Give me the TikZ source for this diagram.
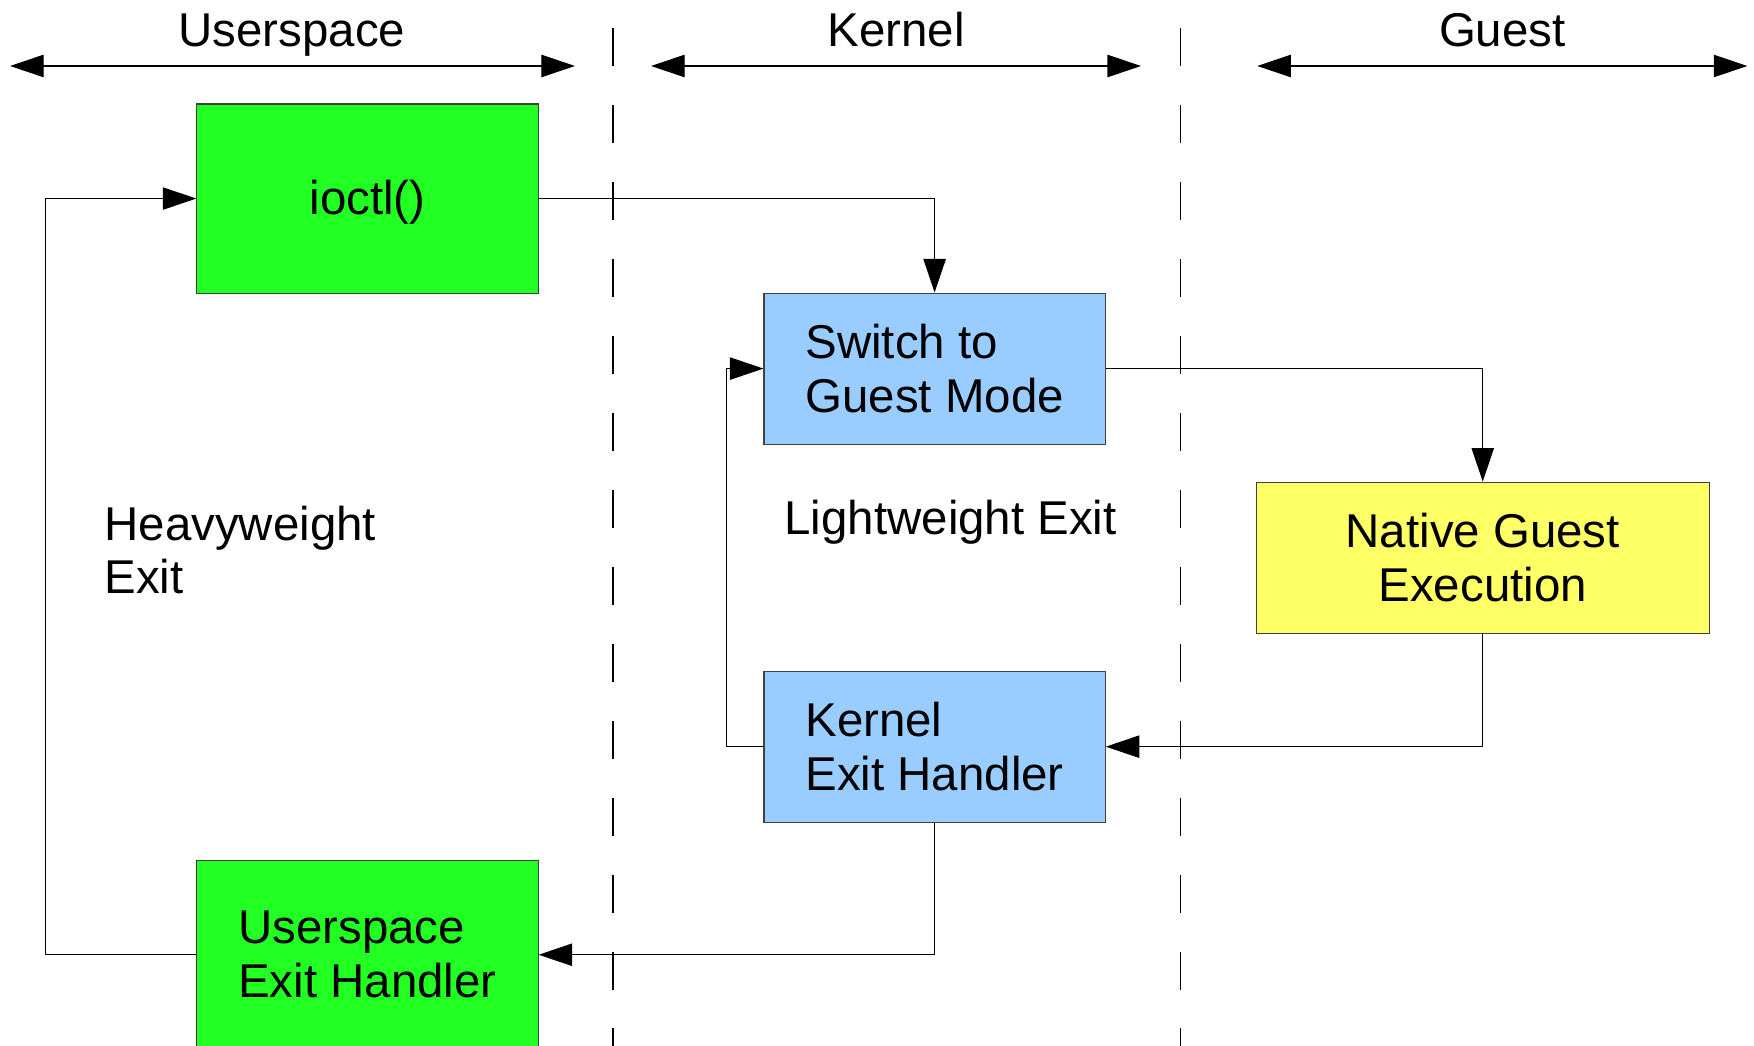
\documentclass[tikz,border=0pt]{standalone}
\usepackage{fontspec}
\setmainfont{Liberation Sans}
\usetikzlibrary{arrows.meta}
\definecolor{boxgreen}{RGB}{34,255,34}
\definecolor{boxblue}{RGB}{153,204,255}
\definecolor{boxyellow}{RGB}{255,255,102}
\tikzset{
  lbl/.style={font=\fontsize{21.2pt}{24pt}\selectfont, inner sep=0pt},
  box/.style={draw=black!75, line width=0.5pt, inner sep=0pt, align=left,
    font=\fontsize{21.2pt}{24pt}\selectfont},
  smallbox/.style={box, minimum width=152.5pt, minimum height=67.5pt},
  bigbox/.style={box, minimum width=152.5pt, minimum height=84.5pt},
  conn/.style={line width=0.5pt, -{Triangle[length=15pt,width=10pt]}},
  span/.style={line width=0.5pt, {Triangle[length=15pt,width=10pt]}-{Triangle[length=15pt,width=10pt]}},
  sep/.style={line width=0.5pt, dash pattern=on 17.2pt off 17.2pt}
}
\begin{document}
\begin{tikzpicture}[x=0.5pt,y=-0.5pt]
\clip (0,0) rectangle (1568,935);
\fill[white] (0,0) rectangle (1568,935);

% section separators
\draw[sep] (548,25) -- (548,960);
\draw[sep] (1055,25) -- (1055,960);

% section spans
\coordinate (usl) at (9,59);  \coordinate (usr) at (514,59);
\coordinate (knl) at (582,59); \coordinate (knr) at (1020,59);
\coordinate (gul) at (1124,59); \coordinate (gur) at (1562,59);
\draw[span] (usl) -- (usr);
\draw[span] (knl) -- (knr);
\draw[span] (gul) -- (gur);
\node[lbl, anchor=base] (tus) at (261,42) {Userspace};
\node[lbl, anchor=base] (tkn) at (801,42) {Kernel};
\node[lbl, anchor=base] (tgu) at (1343,42) {Guest};

% boxes
\node[bigbox, fill=boxgreen, align=center] (ioctl) at (328.5,177.5) {\raisebox{-1.5pt}[\height][\depth]{ioctl()}};
\node[smallbox, fill=boxblue] (sw) at (835.5,329.5) {Switch to\\Guest Mode};
\node[smallbox, fill=boxyellow, minimum width=202.5pt, align=center] (nat) at (1325.5,498.5) {Native Guest\\Execution};
\node[smallbox, fill=boxblue] (keh) at (835.5,667.5) {Kernel\\Exit Handler};
\node[bigbox, fill=boxgreen] (ueh) at (328.5,853.5) {Userspace\\Exit Handler};

% free labels
\node[lbl, anchor=base west, align=left] (hw) at (93,531) {Heavyweight\\Exit};
\node[lbl, anchor=base west] (lw) at (701,478) {Lightweight Exit};

% connectors
\draw[conn] (ioctl.east) -| (sw.north);
\draw[conn] (sw.east) -| (nat.north);
\draw[conn] (nat.south) |- (keh.east);
\draw[conn] (keh.west) -- ([xshift=-16.5pt]keh.west) |- (sw.west);
\draw[conn] (keh.south) |- (ueh.east);
\draw[conn] (ueh.west) -- ([xshift=-67.5pt]ueh.west) |- (ioctl.west);
\end{tikzpicture}
\end{document}
